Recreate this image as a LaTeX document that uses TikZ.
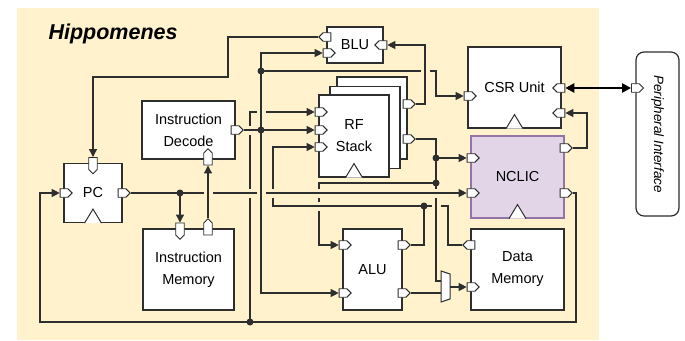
\documentclass[tikz,border=0pt]{standalone}
\usepackage{fontspec}
\setmainfont{Liberation Sans}
\usepackage{tikz}
\usetikzlibrary{positioning,arrows.meta,shapes.symbols}
\definecolor{bgclr}{HTML}{FFF2CC}
\definecolor{wireclr}{HTML}{2E2E2E}
\definecolor{nclicfill}{HTML}{E1D5E7}
\definecolor{nclicdraw}{HTML}{9673A6}
\tikzset{
  blk/.style={rectangle,draw=wireclr,line width=1.2pt,fill=white,
              inner sep=1pt,align=center,font=\fontsize{14.5}{22}\selectfont},
  port/.style={signal,draw=wireclr,line width=0.9pt,fill=white,inner sep=0pt},
  port e/.style={port,signal to=east,minimum width=12pt,minimum height=8.5pt},
  port w/.style={port,signal to=west,minimum width=12pt,minimum height=8.5pt},
  port s/.style={port,signal to=south,minimum width=8.5pt,minimum height=12pt},
  port n/.style={port,signal to=north,minimum width=8.5pt,minimum height=12pt},
  wire/.style={draw=wireclr,line width=1.1pt},
  sig/.style={wire,-{Triangle[length=8pt,width=8pt]}},
  jn/.style={circle,fill=wireclr,inner sep=0pt,minimum size=7pt},
  clock/.style={draw=wireclr,line width=1pt,fill=white},
}
\newcommand{\clk}[1]{\draw[clock] ([xshift=-8.5pt]#1.south) -- ([yshift=14pt]#1.south) -- ([xshift=8.5pt]#1.south);}
\newcommand{\vjump}[2]{\fill[bgclr] (#1-1.8,#2-4.5) rectangle (#1+1.8,#2+4.5);
  \draw[wire] (#1-2.5,#2) -- (#1+2.5,#2);}
\newcommand{\hjump}[2]{\fill[bgclr] (#1-4.5,#2-1.8) rectangle (#1+4.5,#2+1.8);
  \draw[wire] (#1,#2-2.5) -- (#1,#2+2.5);}

\begin{document}
\begin{tikzpicture}[x=1pt,y=-1pt,
    pibox/.style={draw=wireclr,line width=1.2pt,fill=white,rounded corners=8pt,
                  minimum width=164pt,minimum height=43pt,
                  font=\fontsize{13.5}{16}\selectfont\itshape},
    mux/.style={draw=wireclr,line width=1pt,fill=white}
  ]
\useasboundingbox (0,0) rectangle (685,340);
\fill[bgclr] (17,8) rectangle (599,340);
\node[anchor=west,font=\fontsize{21.5}{26}\selectfont\bfseries\itshape] (title) at (45,34) {Hippomenes};

% blocks
\node[blk,minimum width=58pt,minimum height=59pt] (pc) at (93,193) {PC};
\node[blk,minimum width=93pt,minimum height=58pt] (id) at (188.5,130) {Instruction\\Decode};
\node[blk,minimum width=91pt,minimum height=81pt] (im) at (188.5,269.5) {Instruction\\Memory};
\node[blk,minimum width=56pt,minimum height=36pt] (blu) at (355,45) {BLU};
\node[blk,minimum width=70pt,minimum height=82pt] (rfc) at (372,118) {};
\node[blk,minimum width=70pt,minimum height=82pt] (rfb) at (365,127.5) {};
\node[blk,minimum width=70pt,minimum height=82pt] (rf) at (354,136) {RF\\Stack};
\node[blk,minimum width=93pt,minimum height=81pt] (csr) at (514.5,87.5) {CSR Unit};
\node[blk,draw=nclicdraw,fill=nclicfill,minimum width=93pt,minimum height=82pt] (nclic) at (517.5,177) {NCLIC};
\node[blk,minimum width=59pt,minimum height=81pt] (alu) at (372.5,269.5) {ALU};
\node[blk,minimum width=93pt,minimum height=81pt] (dm) at (517.5,269.5) {Data\\Memory};
\node[pibox,rotate=-90] (pi) at (657.5,134) {Peripheral Interface};
\draw[mux] (441,271) -- (450,274) -- (450,299) -- (441,302) -- cycle;
\coordinate (mxa) at (441,281);
\coordinate (mxb) at (441,293);
\coordinate (mxo) at (450,287);

% clocks
\clk{pc} \clk{rf} \clk{csr} \clk{nclic}

% ports
\node[port e] (pcin) at (64,193) {};
\node[port e] (pcout) at (122,193) {};
\node[port s] (pctop) at (93,163.5) {};
\node[port e] (idout) at (235,130) {};
\node[port n] (idin) at (208,159) {};
\node[port s] (imin) at (180,229) {};
\node[port n] (imout) at (208,229) {};
\node[port w] (bluout) at (327,37) {};
\node[port e] (bluin) at (327,53) {};
\node[port w] (blur) at (383,45) {};
\node[port e] (rfin1) at (319,112) {};
\node[port e] (rfin2) at (319,130) {};
\node[port e] (rfin3) at (319,147) {};
\node[port e] (rfout1) at (407,104) {};
\node[port e] (rfout2) at (407,139) {};
\node[port e] (csrin) at (468,96) {};
\node[port w] (csrr1) at (561,88) {};
\node[port w] (csrr2) at (561,113) {};
\node[port e] (ncin1) at (471,158) {};
\node[port e] (ncin2) at (471,193) {};
\node[port e] (ncout1) at (564,148) {};
\node[port e] (ncout2) at (564,193) {};
\node[port e] (aluin1) at (343,245) {};
\node[port e] (aluin2) at (343,293) {};
\node[port e] (aluout1) at (402,245) {};
\node[port e] (aluout2) at (402,293) {};
\node[port w] (dmout) at (471,245) {};
\node[port e] (dmin) at (471,287) {};
\node[port e] (piport) at (pi.south |- csrr1) {};

% junctions and bends
\node[jn] (j1) at (180,193) {};
\node[jn] (j2) at (261,71) {};
\node[jn] (j3) at (261,130) {};
\node[jn] (j4) at (436,158) {};
\node[jn] (j5) at (436,183) {};
\node[jn] (j6) at (424,206) {};
\node[jn] (j7) at (250,322) {};
\coordinate (b1) at (228,77);
\coordinate (b2) at (436,71);
\coordinate (b3) at (425,45);
\coordinate (b4) at (319,183);
\coordinate (b5) at (448,206);
\coordinate (b6) at (273,206);
\coordinate (b7) at (587,113);
\coordinate (b8) at (576,322);
\coordinate (b9) at (40,322);

% wires
\draw[sig] (pcout.east) -- (ncin2.west);
\draw[sig] (j1.center) -- (imin.north);
\draw[sig] (imout.north) -- (idin.south);
\draw[sig] (bluout.west) -| (b1) -| (pctop.north);
\draw[sig] (idout.east) -- (rfin2.west);
\draw[sig] (j3.center) |- (bluin.west);
\draw[sig] (j3.center) |- (aluin2.west);
\draw[sig] (j2.center) -- (b2) |- (csrin.west);
\draw[sig] (rfout1.east) -| (b3) -- (blur.east);
\draw[wire] (rfout2.east) -| (j4.center);
\draw[sig] (j4.center) -- (ncin1.west);
\draw[wire] (j4.center) -- (j5.center) |- (mxa);
\draw[sig] (j5.center) -- (b4) |- (aluin1.west);
\draw[wire] (aluout1.east) -| (j6.center);
\draw[wire] (dmout.west) -| (b5) -- (j6.center);
\draw[sig] (j6.center) -- (b6) |- (rfin3.west);
\draw[wire] (aluout2.east) -- (mxb);
\draw[sig] (mxo) -- (dmin.west);
\draw[sig] (ncout1.east) -| (b7) -- (csrr2.east);
\draw[sig] (ncout2.east) -| (b8) -- (b9) |- (pcin.west);
\draw[sig] (j7.center) |- (rfin1.west);
\draw[draw=black,line width=2.4pt,{Triangle[length=9pt,width=9pt]}-{Triangle[length=9pt,width=9pt]}]
  (csrr1.east) -- (piport.west);

% line jumps
\vjump{250}{193} \vjump{250}{130} \vjump{273}{193}
\vjump{319}{193} \vjump{319}{206} \vjump{436}{193}
\hjump{208}{193} \hjump{261}{193} \hjump{261}{112}
\hjump{425}{71} \hjump{436}{206}
\end{tikzpicture}
\end{document}
